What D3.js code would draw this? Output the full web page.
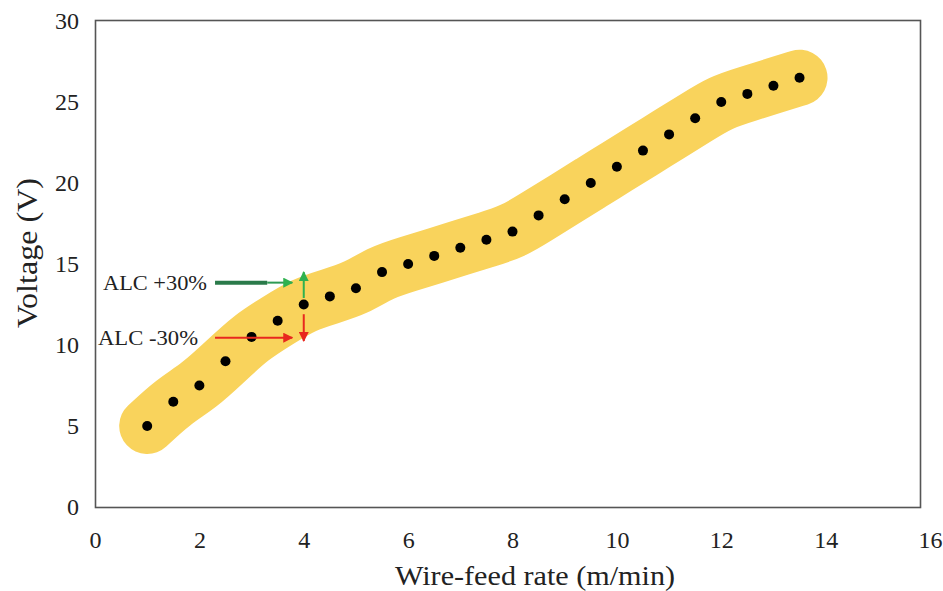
<!DOCTYPE html>
<html>
<head>
<meta charset="utf-8">
<script src="https://cdn.jsdelivr.net/npm/d3@7"></script>
<style>
  body { margin: 0; background: #fff; }
  svg text { font-family: "Liberation Serif", "Times New Roman", serif; fill: #222; }
</style>
</head>
<body>
<svg id="chart" width="943" height="591"></svg>
<script>
// Data
var wireFeed = [1, 1.5, 2, 2.5, 3, 3.5, 4, 4.5, 5, 5.5, 6, 6.5, 7, 7.5, 8, 8.5, 9, 9.5, 10, 10.5, 11, 11.5, 12, 12.5, 13, 13.5];
var voltage = [5, 6.5, 7.5, 9, 10.5, 11.5, 12.5, 13, 13.5, 14.5, 15, 15.5, 16, 16.5, 17, 18, 19, 20, 21, 22, 23, 24, 25, 25.5, 26, 26.5];
var xTicks = [0, 2, 4, 6, 8, 10, 12, 14, 16];
var yTicks = [0, 5, 10, 15, 20, 25, 30];

// ALC annotation: label, arrow y level, vertical arrow from/to (volts), colour
var alcLabels = ["ALC +30%", "ALC -30%"];
var alcArrowY = [13.85, 10.45];
var alcVertFrom = [12.9, 11.9];
var alcVertTo = [14.5, 10.25];
var alcColors = ["#2fb14f", "#e8281e"];

var data = wireFeed.map(function(d, i) { return { x: d, y: voltage[i] }; });

var svg = d3.select("#chart");

// scales (frame drawn separately, Excel-style)
var xScale = d3.scaleLinear().domain([0, 16]).range([95, 930]);
var yScale = d3.scaleLinear().domain([0, 30]).range([507, 21]);

// yellow band behind the points
var band = d3.line()
    .x(function(d) { return xScale(d.x); })
    .y(function(d) { return yScale(d.y); })
    .curve(d3.curveBasis);

svg.append("path")
    .datum(data)
    .attr("d", band)
    .attr("fill", "none")
    .attr("stroke", "#f9d35c")
    .attr("stroke-width", 56)
    .attr("stroke-linecap", "round")
    .attr("stroke-linejoin", "round");

// frame
svg.append("rect")
    .attr("x", 95.5)
    .attr("y", 20.5)
    .attr("width", 825)
    .attr("height", 487)
    .attr("fill", "none")
    .attr("stroke", "#555")
    .attr("stroke-width", 1.6);

// axes without tick marks
var xAxis = svg.append("g")
    .attr("transform", "translate(0,531)")
    .call(d3.axisBottom(xScale).tickValues(xTicks).tickSize(0).tickPadding(0));
xAxis.select(".domain").remove();
xAxis.selectAll("text")
    .attr("dy", "0.71em")
    .style("font-size", "24px")
    .style("font-family", "'Liberation Serif', serif");

var yAxis = svg.append("g")
    .attr("transform", "translate(79,0)")
    .call(d3.axisLeft(yScale).tickValues(yTicks).tickSize(0).tickPadding(0));
yAxis.select(".domain").remove();
yAxis.selectAll("text")
    .style("font-size", "24px")
    .style("font-family", "'Liberation Serif', serif");

// points
svg.selectAll(".pt")
    .data(data)
    .enter().append("circle")
    .attr("class", "pt")
    .attr("cx", function(d) { return xScale(d.x); })
    .attr("cy", function(d) { return yScale(d.y); })
    .attr("r", 5)
    .attr("fill", "#000");

// arrow markers
var defs = svg.append("defs");
alcColors.forEach(function(c, i) {
    defs.append("marker")
        .attr("id", "arrow" + i)
        .attr("viewBox", "0 0 10 10")
        .attr("refX", 9)
        .attr("refY", 5)
        .attr("markerWidth", 5)
        .attr("markerHeight", 5)
        .attr("markerUnits", "strokeWidth")
        .attr("orient", "auto")
        .append("path")
        .attr("d", "M0,0L10,5L0,10z")
        .attr("fill", c);
});

// ALC annotations
var arrowStart = 2.3, arrowEnd = 3.78, vertX = 4.0;
alcLabels.forEach(function(lab, i) {
    var yy = yScale(alcArrowY[i]);
    svg.append("text")
        .attr("x", i === 0 ? 103 : 98)
        .attr("y", yy + 7)
        .attr("textLength", i === 0 ? 104 : 100)
        .attr("lengthAdjust", "spacingAndGlyphs")
        .style("font-size", "20px")
        .text(lab);

    if (i === 0) {
        // darker, thicker tail on the green arrow
        svg.append("line")
            .attr("x1", xScale(arrowStart)).attr("x2", xScale(3.3))
            .attr("y1", yy).attr("y2", yy)
            .attr("stroke", "#2a7a4a")
            .attr("stroke-width", 4);
    }
    svg.append("line")
        .attr("x1", xScale(i === 0 ? 3.3 : arrowStart)).attr("x2", xScale(arrowEnd))
        .attr("y1", yy).attr("y2", yy)
        .attr("stroke", i === 0 ? "#2e9a55" : alcColors[i])
        .attr("stroke-width", 2)
        .attr("marker-end", "url(#arrow" + i + ")");

    svg.append("line")
        .attr("x1", xScale(vertX)).attr("x2", xScale(vertX))
        .attr("y1", yScale(alcVertFrom[i])).attr("y2", yScale(alcVertTo[i]))
        .attr("stroke", alcColors[i])
        .attr("stroke-width", 2)
        .attr("marker-end", "url(#arrow" + i + ")");
});

// axis titles
svg.append("text")
    .attr("x", 535)
    .attr("y", 585)
    .attr("text-anchor", "middle")
    .attr("textLength", 280)
    .attr("lengthAdjust", "spacingAndGlyphs")
    .style("font-size", "27px")
    .text("Wire-feed rate (m/min)");

svg.append("text")
    .attr("transform", "translate(37,253) rotate(-90)")
    .attr("text-anchor", "middle")
    .attr("textLength", 150)
    .attr("lengthAdjust", "spacingAndGlyphs")
    .style("font-size", "29px")
    .text("Voltage (V)");
</script>
</body>
</html>
